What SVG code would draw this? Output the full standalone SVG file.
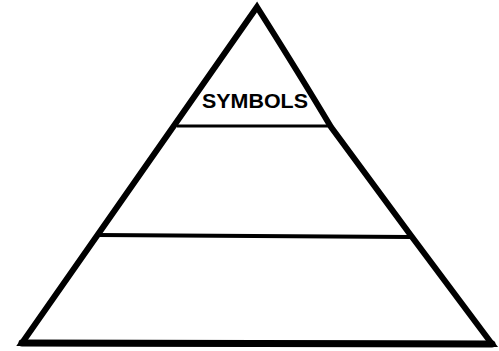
<svg xmlns="http://www.w3.org/2000/svg" width="499" height="351" viewBox="0 0 499 351">
<style>
.edge{fill:none;stroke:#000;stroke-width:6;stroke-linejoin:miter;stroke-linecap:round}
.tier{fill:none;stroke:#000;stroke-linecap:butt}
.lbl{font-family:"Liberation Sans",Arial,sans-serif;font-weight:bold;font-size:21px;fill:#000}
</style>
<rect width="499" height="351" fill="#fff"/>
<g id="pyramid">
<path class="edge" d="M22,343 L257,7 Q300,75 331,127 Q410,235 492,344 Z"/>
<line x1="22" y1="343" x2="492" y2="344" stroke="#000" stroke-width="7" stroke-linecap="round"/>
</g>
<g id="connectors">
<line class="tier" x1="177" y1="126" x2="330" y2="126" stroke-width="3"/>
<line class="tier" x1="98" y1="235" x2="410" y2="237" stroke-width="4"/>
</g>
<g id="symbols">
<text class="lbl" x="202" y="108" textLength="106" lengthAdjust="spacingAndGlyphs">SYMBOLS</text>
</g>
</svg>
